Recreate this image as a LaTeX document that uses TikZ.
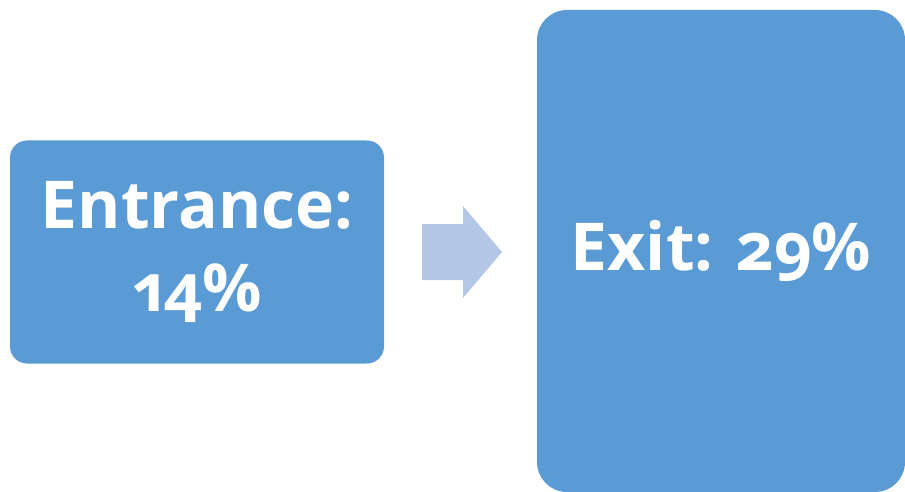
\documentclass[tikz,border=0pt]{standalone}
\usepackage{fontspec}
\usepackage{tikz}
\usepackage{xcolor}
\newfontfamily\cardfont[Numbers=OldStyle]{Open Sans}
\definecolor{boxblue}{HTML}{5B9BD5}
\definecolor{arrowblue}{HTML}{B4C7E7}
\tikzset{
    rounded-box/.style = {fill=boxblue, text=white, rectangle, inner sep=0pt, align=center, font=\cardfont\bfseries\fontsize{66}{83}\selectfont},
    block-arrow/.style = {fill=arrowblue},
}

\begin{document}
\begin{tikzpicture}[x=1pt,y=-1pt]
\useasboundingbox (0,0) rectangle (905,492);
\node [rounded-box, minimum width=374pt, minimum height=223pt, rounded corners=17pt] (entrance) at (197,252) {Entrance:\\14\%};
\node [rounded-box, minimum width=368pt, minimum height=482pt, rounded corners=30pt] (exit) at (721,251) {Exit: 29\%};
\fill[block-arrow] (422,224) -- (463,224) -- (463,206) -- (502,252) -- (463,298) -- (463,280) -- (422,280) -- cycle;
\end{tikzpicture}
\end{document}
